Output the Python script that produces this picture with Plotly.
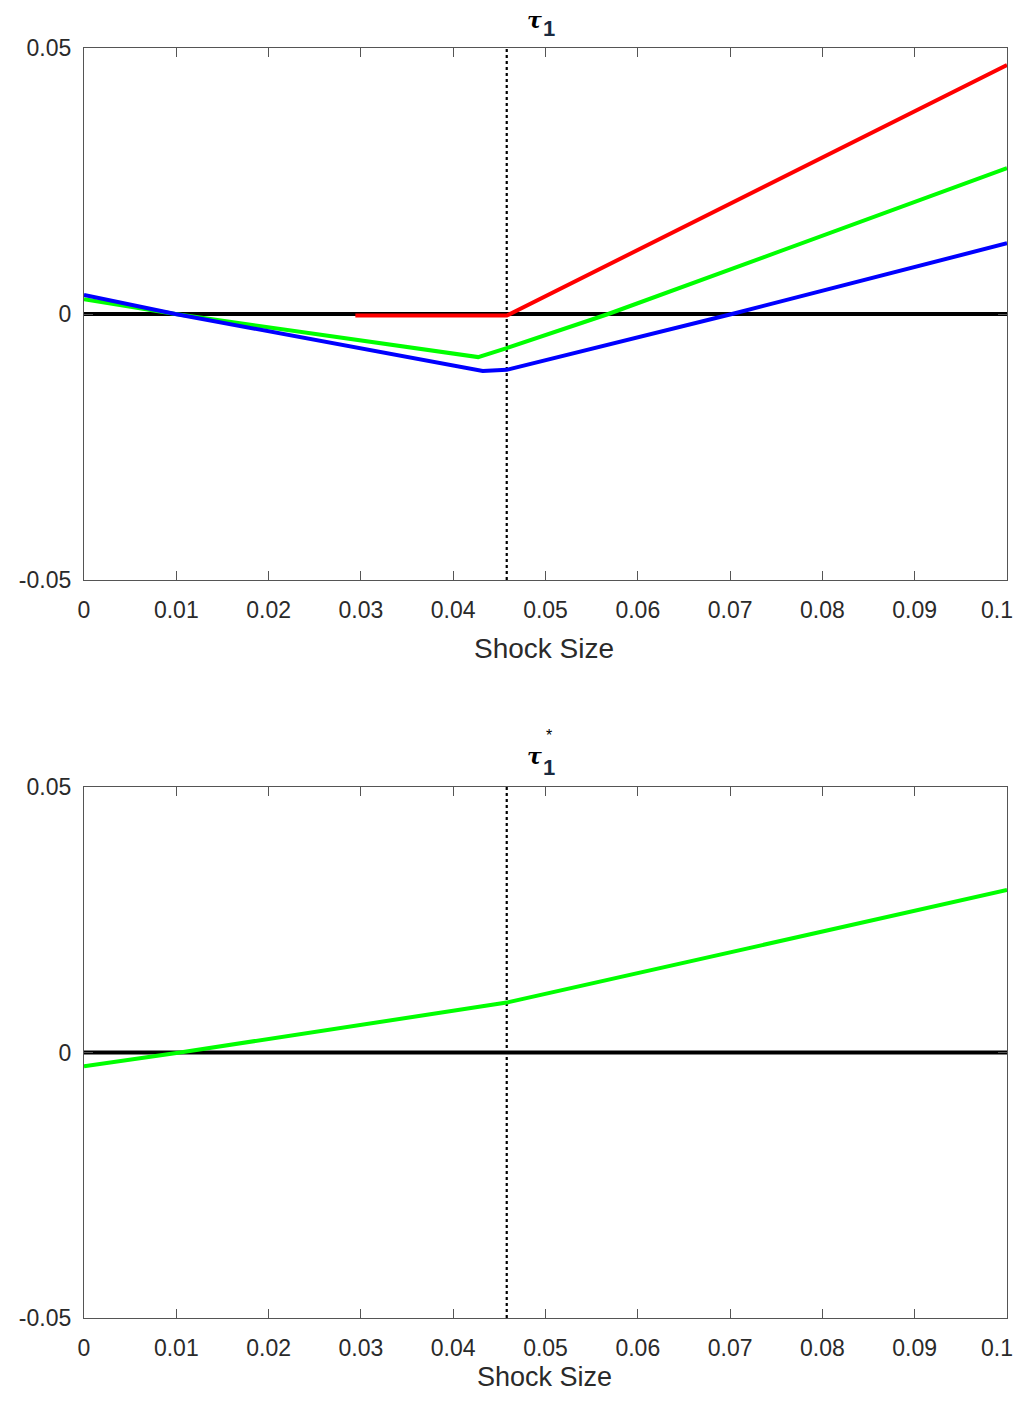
import plotly.graph_objects as go

# Top panel (tau_1)
blue_x = [0.0, 0.0099, 0.0432, 0.0458, 0.0702, 0.1]
blue_y = [0.0036, 0.0, -0.0107, -0.0105, 0.0, 0.0133]
green_x = [0.0, 0.0099, 0.0427, 0.0458, 0.0568, 0.1]
green_y = [0.0028, 0.0, -0.0081, -0.0064, 0.0, 0.0274]
red_x = [0.0294, 0.0458, 0.1]
red_y = [-0.0003, -0.0003, 0.0468]

# Bottom panel (tau_1*)
green2_x = [0.0, 0.0104, 0.0458, 0.0718, 0.1]
green2_y = [-0.0026, 0.0, 0.0094, 0.0196, 0.0306]

threshold = 0.0458
x_ticks = [0, 0.01, 0.02, 0.03, 0.04, 0.05, 0.06, 0.07, 0.08, 0.09, 0.1]
x_labels = ["0", "0.01", "0.02", "0.03", "0.04", "0.05", "0.06", "0.07", "0.08", "0.09", "0.1"]
y_ticks = [-0.05, 0, 0.05]
y_labels = ["-0.05", "0", "0.05"]

# page body has an 8px margin; the figure starts at (8, 8) in the window.
OFF = 8
W, H = 1024 - OFF, 1402 - 2 * OFF

def fx(px):
    return (px - OFF) / W

def fy(py):
    return 1 - (py - OFF) / H

xd = [fx(84), fx(1007)]
top_d = [fy(580), fy(48)]
bot_d = [fy(1318), fy(787)]

fig = go.Figure()

def add_panel(xa, ya, series):
    fig.add_trace(go.Scatter(x=[0, 0.1], y=[0, 0], mode="lines",
                             line=dict(color="black", width=4),
                             xaxis=xa, yaxis=ya, showlegend=False, hoverinfo="skip"))
    fig.add_trace(go.Scatter(x=[threshold, threshold], y=[-0.05, 0.05], mode="lines",
                             line=dict(color="black", width=2.2, dash="dot"),
                             xaxis=xa, yaxis=ya, showlegend=False, hoverinfo="skip"))
    for xs, ys, c in series:
        fig.add_trace(go.Scatter(x=xs, y=ys, mode="lines",
                                 line=dict(color=c, width=4),
                                 xaxis=xa, yaxis=ya, showlegend=False))

add_panel("x", "y", [(red_x, red_y, "#ff0000"), (green_x, green_y, "#00ff00"),
                     (blue_x, blue_y, "#0000ff")])
add_panel("x2", "y2", [(green2_x, green2_y, "#00ff00")])

FAM = "Liberation Sans, Arial, sans-serif"
font = dict(family=FAM, size=23, color="#2a2a2a")
axis_common = dict(showgrid=False, zeroline=False, showline=True, linecolor="#555555",
                   linewidth=1.3, mirror="ticks", ticks="inside", ticklen=9,
                   tickcolor="#555555", tickfont=font, automargin=False,
                   ticklabeloverflow="allow")

# last x label is placed separately so it stays inside the visible page
shown_labels = x_labels[:-1] + [""]

fig.update_layout(
    width=W, height=H, plot_bgcolor="white", paper_bgcolor="white",
    margin=dict(l=0, r=0, t=0, b=0),
    xaxis=dict(domain=xd, range=[0, 0.1], tickvals=x_ticks, ticktext=shown_labels,
               anchor="y", ticklabelstandoff=9, **axis_common),
    yaxis=dict(domain=top_d, range=[-0.05, 0.05], tickvals=y_ticks, ticktext=y_labels,
               anchor="x", ticklabelstandoff=7, **axis_common),
    xaxis2=dict(domain=xd, range=[0, 0.1], tickvals=x_ticks, ticktext=shown_labels,
                anchor="y2", ticklabelstandoff=9, **axis_common),
    yaxis2=dict(domain=bot_d, range=[-0.05, 0.05], tickvals=y_ticks, ticktext=y_labels,
                anchor="x2", ticklabelstandoff=7, **axis_common),
)

def ann(text, x_px, y_px, size, color="#2a2a2a", family=FAM, xanchor="center",
        yanchor="middle"):
    fig.add_annotation(text=text, x=fx(x_px), y=fy(y_px), xref="paper", yref="paper",
                       showarrow=False, xanchor=xanchor, yanchor=yanchor,
                       font=dict(family=family, size=size, color=color))

ann(x_labels[-1], 1015, 610, 23, xanchor="right")
ann(x_labels[-1], 1015, 1348, 23, xanchor="right")
ann("Shock Size", 544, 648, 28)
ann("Shock Size", 544, 1394, 27, yanchor="bottom")
SERIF = "DejaVu Serif, Liberation Serif, serif"
ann("<b><i>τ</i></b>", 534, 20, 22, color="black", family=SERIF)
ann("<b>1</b>", 549, 28, 22, color="#1a2a40")
ann("<b><i>τ</i></b>", 534, 756, 22, color="black", family=SERIF)
ann("<b>1</b>", 549, 767, 22, color="#1a2a40")
ann("*", 549, 735, 16, color="black")

fig.write_html("out.html")
